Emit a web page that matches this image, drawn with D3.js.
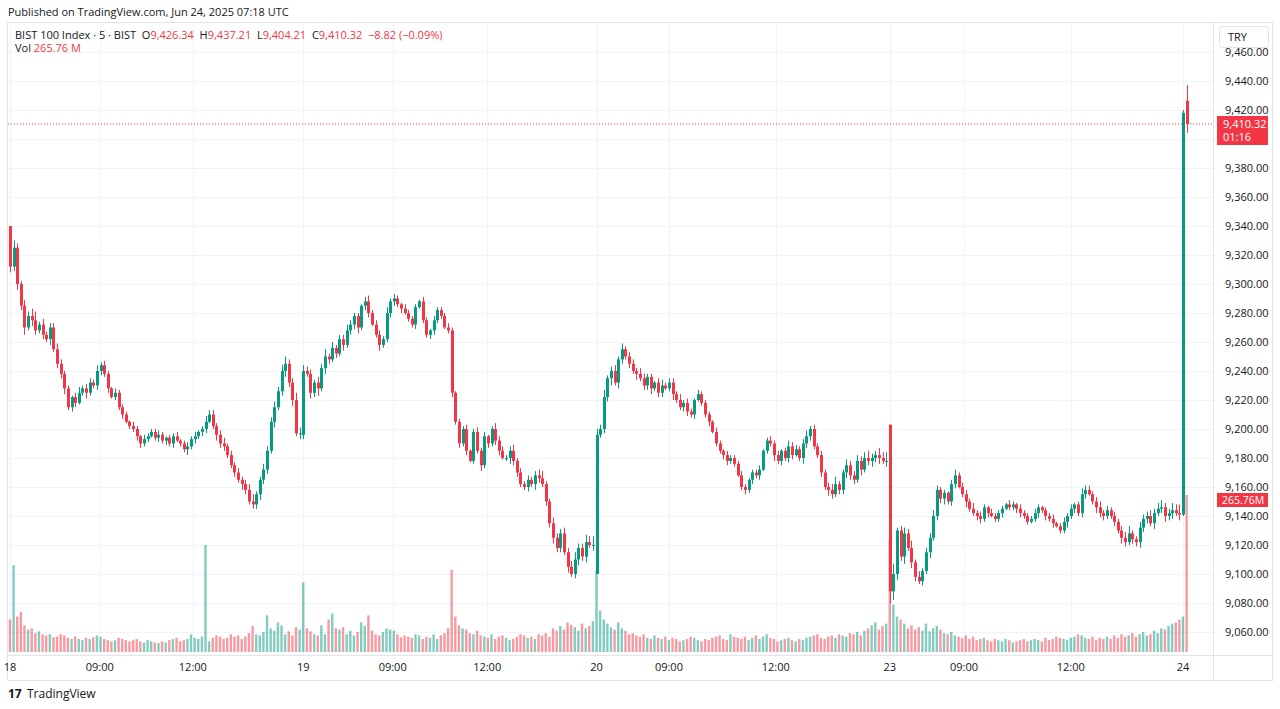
<!DOCTYPE html>
<html><head><meta charset="utf-8">
<script src="https://cdn.jsdelivr.net/npm/d3@7"></script>
<style>
body{margin:0;background:#fff;font-family:"Open Sans","DejaVu Sans",sans-serif;}
svg text{font-family:"Open Sans","DejaVu Sans",sans-serif;}
</style></head>
<body><svg id="chart" width="1280" height="709"></svg>
<script>
// closes per session, first value is the opening bar's close
const dayNames = ["18", "19", "20", "23", "24"];
const dayOpens = [9340, 9196, 9100, 9203, 9141];
const closes18 = [9312,9325,9300,9285,9270,9278,9275,9268,9272,9265,
  9262,9270,9255,9245,9238,9228,9215,9222,9218,9225,
  9228,9225,9232,9230,9240,9244,9238,9228,9222,9225,
  9215,9210,9205,9202,9200,9195,9190,9193,9195,9198,
  9194,9196,9192,9194,9190,9195,9192,9190,9186,9188,
  9193,9195,9198,9200,9205,9210,9202,9196,9190,9188,
  9182,9175,9170,9165,9162,9158,9150,9148,9155,9165,
  9172,9185,9205,9215,9226,9240,9245,9232,9220,9197,9197];
const closes19 = [9240,9238,9225,9232,9228,9242,9250,9248,9256,9252,
  9262,9258,9268,9272,9278,9270,9285,9288,9280,9272,
  9265,9258,9262,9280,9288,9290,9286,9283,9280,9276,
  9272,9284,9288,9275,9265,9268,9275,9282,9278,9270,
  9268,
  9225,9205,9190,9200,9185,9178,9198,9185,9175,9195,
  9190,9200,9192,9185,9180,9180,9185,9178,9170,9162,
  9160,9165,9162,9168,9166,9162,9150,9135,9125,9118,
  9128,9115,9105,9100,9110,9118,9112,9122,9120,9120];
const closes20 = [9196,9200,9222,9235,9240,9232,9248,9255,9250,9245,
  9240,9238,9235,9230,9236,9228,9232,9225,9230,9228,
  9232,9224,9220,9215,9218,9212,9210,9220,9224,9218,
  9210,9205,9198,9190,9185,9182,9178,9180,9176,9168,
  9160,9158,9165,9170,9168,9172,9185,9192,9190,9182,
  9178,9185,9180,9188,9182,9186,9180,9190,9195,9200,
  9188,9182,9170,9160,9158,9155,9162,9158,9170,9175,
  9168,9165,9178,9172,9180,9178,9180,9182,9180,9178,9178];
const closes23 = [9088,9100,9130,9112,9128,9118,9108,9098,9095,9102,
  9115,9125,9140,9158,9152,9156,9150,9162,9168,9160,
  9155,9150,9145,9142,9140,9138,9146,9142,9140,9138,
  9142,9145,9148,9146,9148,9145,9142,9140,9136,9138,
  9142,9146,9144,9140,9138,9135,9133,9130,9136,9140,
  9145,9148,9142,9155,9158,9155,9150,9146,9142,9140,
  9144,9140,9136,9130,9125,9122,9128,9124,9122,9132,
  9138,9140,9135,9142,9145,9146,9140,9142,9144,9142,9141];
const closes24 = [9418, 9410.32];
const opens24 = [9141, 9426.34];
const highs24 = [9420, 9437.21];
const lows24 = [9140, 9404.21];
const closesByDay = [closes18, closes19, closes20, closes23];

// wick extents in points (upper / lower), one digit per bar
const upWicks = [
  "053243562423343221342332423213222132132223212231232312433234232323452243343453354",
  "433243524233432213423324232132221321322232122312323124332342323234522433434533546",
  "435234242332432213423324232132221321322232122312323124332342323234522433434533546",
  "072343524233432213423324232132221321322232122312323124332342323234522433434533546"];
const downWicks = [
  "434352432324233423312422332312231223322123232312242323312433223243233433242343424",
  "324352432324233423312422332312231223322123232312242323312433223243233433242343424",
  "023352432324233423312422332312231223322123232312242323312433223243233433242343424",
  "864352432324233423312422332312231223322123232312242323312433223243233433242343424"];

// volume in millions
const vol18 = [55,147,60,68,45,38,40,32,35,30,28,30,25,26,30,28,24,22,26,22,
  20,24,22,25,28,26,22,20,18,20,24,22,20,18,20,22,18,16,20,18,
  16,15,18,16,20,22,24,18,20,22,30,24,22,26,181,18,24,28,26,22,
  24,30,26,28,22,26,32,44,30,28,34,62,40,36,50,45,30,35,28,42,38];
const vol19 = [118,40,35,30,28,45,30,55,65,40,38,42,30,36,28,34,50,44,62,36,
  30,28,34,40,38,36,30,25,28,26,24,30,28,22,26,24,30,22,28,32,40,
  139,60,45,40,38,32,30,36,28,26,24,30,22,26,28,24,20,22,26,30,
  28,24,26,22,30,28,32,26,40,36,44,38,50,46,42,36,48,40,44,52];
const vol20 = [139,70,55,48,42,38,50,40,36,30,32,28,26,30,24,22,28,24,22,26,
  20,24,22,18,20,22,26,24,20,18,22,20,24,26,28,22,20,30,26,24,
  22,26,20,24,28,22,26,30,24,22,18,20,22,24,20,18,22,20,24,26,
  28,30,24,22,26,28,24,30,28,26,32,30,34,28,36,40,45,50,38,44,48];
const vol23 = [190,80,60,55,48,40,45,38,42,36,48,35,40,44,38,32,30,34,28,26,
  24,28,22,26,20,22,24,20,18,22,20,18,22,20,16,18,20,22,18,20,
  22,20,18,24,20,22,26,24,22,20,24,26,30,28,24,22,26,20,24,22,
  26,22,28,24,30,26,28,32,26,30,34,28,30,36,32,40,38,44,48,50,55];
const vol24 = [60, 265.76];
const volByDay = [vol18, vol19, vol20, vol23, vol24];

// axis labels
const timeLabels = ["18","09:00","12:00","19","09:00","12:00","20","09:00","12:00","23","09:00","12:00","24"];
const timeLabelBars = [0,24.8,50.5,81,105.7,131.8,162,182,211.5,243,263.5,293,324];
const priceTicks = d3.range(9060, 9461, 20);

const BARS_PER_DAY = 81;
const lastClose = 9410.32;

// ---- build bars
const bars = [];
closesByDay.forEach((cl, d) => {
  cl.forEach((c, i) => {
    const o = i === 0 ? dayOpens[d] : cl[i - 1];
    const up = +(upWicks[d][i] || 0), dn = +(downWicks[d][i] || 0);
    bars.push({idx: d * BARS_PER_DAY + i, o, c,
      h: Math.max(o, c) + up, l: Math.min(o, c) - dn, v: volByDay[d][i] || 0});
  });
});
closes24.forEach((c, i) => {
  bars.push({idx: 4 * BARS_PER_DAY + i, o: opens24[i], c, h: highs24[i], l: lows24[i], v: vol24[i]});
});

const svg = d3.select("#chart");
const plotRight = 1213, plotTop = 22, plotBottom = 655;

const x = d3.scaleLinear().domain([0, 324]).range([10, 1183]);
const y = d3.scaleLinear().domain([9060, 9460]).range([632, 52]);
const yv = d3.scaleLinear().domain([0, 265.76]).range([652, 495]);

const GREEN = "#089981", RED = "#f23645";
const col = d => d.c >= d.o ? GREEN : RED;

// frame
svg.append("rect").attr("x", 7.5).attr("y", plotTop + 0.5).attr("width", 1265).attr("height", 658)
  .attr("fill", "none").attr("stroke", "#e0e3eb");
svg.append("line").attr("x1", plotRight + 0.5).attr("x2", plotRight + 0.5).attr("y1", plotTop).attr("y2", 680)
  .attr("stroke", "#e0e3eb");
svg.append("line").attr("x1", 8).attr("x2", 1272).attr("y1", plotBottom + 0.5).attr("y2", plotBottom + 0.5)
  .attr("stroke", "#e0e3eb");

// grid
const grid = svg.append("g").attr("stroke", "#f0f3fa");
grid.selectAll("line.h").data(priceTicks).join("line")
  .attr("x1", 8).attr("x2", plotRight).attr("y1", d => Math.round(y(d)) + 0.5).attr("y2", d => Math.round(y(d)) + 0.5);
grid.selectAll("line.v").data(timeLabelBars).join("line")
  .attr("x1", d => Math.round(x(d)) + 0.5).attr("x2", d => Math.round(x(d)) + 0.5)
  .attr("y1", plotTop).attr("y2", plotBottom);

// volume
svg.append("g").selectAll("rect").data(bars).join("rect")
  .attr("x", d => x(d.idx) - 1.2).attr("width", 2.4)
  .attr("y", d => yv(d.v)).attr("height", d => 652 - yv(d.v))
  .attr("fill", d => d.c >= d.o ? "rgba(8,153,129,0.5)" : "rgba(242,54,69,0.5)");

// candles
const cg = svg.append("g");
cg.selectAll("line").data(bars).join("line")
  .attr("x1", d => Math.round(x(d.idx)) + 0.5).attr("x2", d => Math.round(x(d.idx)) + 0.5)
  .attr("y1", d => y(d.h)).attr("y2", d => y(d.l)).attr("stroke", col).attr("stroke-width", 1);
cg.selectAll("rect").data(bars).join("rect")
  .attr("x", d => Math.round(x(d.idx)) - 1).attr("width", 3)
  .attr("y", d => y(Math.max(d.o, d.c))).attr("height", d => Math.max(1, Math.abs(y(d.o) - y(d.c))))
  .attr("fill", col);

// last price line
svg.append("line").attr("x1", 8).attr("x2", plotRight).attr("y1", y(lastClose)).attr("y2", y(lastClose))
  .attr("stroke", RED).attr("stroke-dasharray", "1,2");

// price axis (ticks hidden behind the price label are skipped, as in TradingView)
svg.append("g").selectAll("text").data(priceTicks.filter(d => d !== 9400)).join("text")
  .attr("x", 1225).attr("y", d => y(d) + 4).attr("font-size", 11).attr("fill", "#131722")
  .text(d => d3.format(",.2f")(d));

// time axis
svg.append("g").selectAll("text").data(timeLabels).join("text")
  .attr("x", (d, i) => x(timeLabelBars[i])).attr("y", 671).attr("text-anchor", "middle")
  .attr("font-size", 11).attr("fill", "#131722").text(d => d);

// TRY box
svg.append("rect").attr("x", 1219.5).attr("y", 26.5).attr("width", 49).attr("height", 21).attr("rx", 3)
  .attr("fill", "#fff").attr("stroke", "#e0e3eb");
svg.append("text").attr("x", 1228).attr("y", 41).attr("font-size", 11).attr("fill", "#131722").text("TRY");

// last price label
svg.append("rect").attr("x", 1217).attr("y", 116).attr("width", 51).attr("height", 29).attr("fill", RED);
svg.append("text").attr("x", 1223).attr("y", 128).attr("font-size", 11).attr("fill", "#fff").text("9,410.32");
svg.append("text").attr("x", 1223).attr("y", 141).attr("font-size", 11).attr("fill", "#fff").text("01:16");
// volume label
svg.append("rect").attr("x", 1217).attr("y", 493).attr("width", 51).attr("height", 14).attr("fill", RED);
svg.append("text").attr("x", 1222).attr("y", 504).attr("font-size", 10.5).attr("fill", "#fff").text("265.76M");

// header
svg.append("text").attr("x", 8).attr("y", 16).attr("font-size", 11).attr("fill", "#131722")
  .text("Published on TradingView.com, Jun 24, 2025 07:18 UTC");
const hdr = svg.append("text").attr("x", 15).attr("y", 39).attr("font-size", 11).attr("fill", "#131722");
const parts = [["BIST 100 Index · 5 · BIST  ", "#131722"], ["O", "#131722"], ["9,426.34  ", RED],
  ["H", "#131722"], ["9,437.21  ", RED], ["L", "#131722"], ["9,404.21  ", RED],
  ["C", "#131722"], ["9,410.32  −8.82 (−0.09%)", RED]];
parts.forEach(p => hdr.append("tspan").attr("fill", p[1]).attr("xml:space", "preserve").text(p[0]));
const vl = svg.append("text").attr("x", 15).attr("y", 52).attr("font-size", 11).attr("fill", "#131722");
vl.append("tspan").text("Vol  ");
vl.append("tspan").attr("fill", RED).text("265.76 M");

// footer
svg.append("text").attr("x", 8).attr("y", 698).attr("font-size", 12).attr("font-weight", "bold")
  .attr("fill", "#131722").text("17");
svg.append("text").attr("x", 27).attr("y", 698).attr("font-size", 12).attr("fill", "#131722").text("TradingView");
</script></body></html>
